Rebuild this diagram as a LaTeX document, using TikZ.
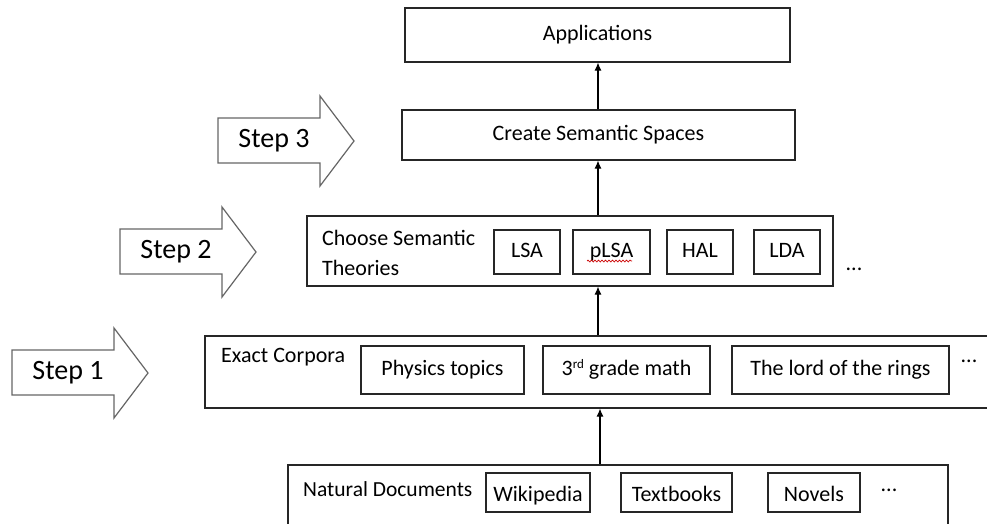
\documentclass[tikz,border=0pt]{standalone}
\usepackage{fontspec}
\setmainfont{Carlito}
\usetikzlibrary{arrows.meta,decorations.pathmorphing}
\begin{document}
\begin{tikzpicture}[x=1pt,y=-1pt,
  box/.style={draw=black!85,line width=1.1pt,inner sep=0pt,font=\fontsize{22}{26}\selectfont},
  ibox/.style={draw=black!85,line width=1.1pt,inner sep=0pt,text height=15pt,text depth=4pt,font=\fontsize{22}{26}\selectfont},
  dbox/.style={ibox,text height=20pt,text depth=3pt},
  lbl/.style={inner sep=0pt,font=\fontsize{22}{30}\selectfont,align=left},
  stepshape/.style={draw=black!60,line width=1.2pt,fill=white,line join=miter},
  steptxt/.style={inner sep=0pt,font=\fontsize{28}{30}\selectfont},
  arr/.style={line width=1.1pt,-{Latex[length=8pt,width=7pt]}}]
\clip (0,0) rectangle (987,523);
\fill[white] (0,0) rectangle (987,523);
% main boxes
\node[box,minimum width=385pt,minimum height=54pt] (app) at (597.5,35) {\raisebox{3pt}{Applications}};
\node[box,minimum width=393pt,minimum height=50pt] (create) at (598.5,135) {\raisebox{3pt}{Create Semantic Spaces}};
\node[box,minimum width=526pt,minimum height=70pt] (choose) at (570,251) {};
\node[box,minimum width=790pt,minimum height=72pt] (exact) at (600,372) {};
\node[box,minimum width=660pt,minimum height=70pt] (natural) at (618,500) {};
% labels inside outer boxes
\node[lbl,anchor=west] (chooselbl) at (322,253) {Choose Semantic\\Theories};
\node[lbl,anchor=west] (exactlbl) at (221,357) {Exact Corpora};
\node[lbl,anchor=west,font=\fontsize{21.5}{26}\selectfont] (naturallbl) at (303,489) {Natural Documents};
% theory boxes
\node[ibox,minimum width=66pt,minimum height=44pt] (lsa) at (527,252) {LSA};
\node[ibox,minimum width=77pt,minimum height=44pt] (plsa) at (611.5,252) {pLSA};
\node[ibox,minimum width=66pt,minimum height=44pt] (hal) at (700,252) {HAL};
\node[ibox,minimum width=66pt,minimum height=44pt] (lda) at (787,252) {LDA};
\node[lbl] (dots2) at (854,269) {...};
\draw[red!80!black,line width=0.7pt,decorate,decoration={snake,amplitude=0.9pt,segment length=3.5pt}] (587,261) -- (632,261);
% corpora boxes
\node[ibox,minimum width=163pt,minimum height=48pt] (phys) at (442.5,370) {Physics topics};
\node[ibox,minimum width=167pt,minimum height=48pt] (math) at (626.5,370) {3\raisebox{7pt}{\fontsize{13}{13}\selectfont rd} grade math};
\node[ibox,minimum width=217pt,minimum height=48pt] (lord) at (840.5,370) {The lord of the rings};
\node[lbl] (dots1) at (969,361) {...};
% document boxes
\node[dbox,minimum width=104pt,minimum height=39pt] (wiki) at (538,492.5) {Wikipedia};
\node[dbox,minimum width=111pt,minimum height=39pt] (text) at (676.5,492.5) {Textbooks};
\node[dbox,minimum width=92pt,minimum height=39pt] (novel) at (814,492.5) {Novels};
\node[lbl] (dots0) at (889,490) {...};
% connectors
\coordinate (ax) at (598,0);
\coordinate (bx) at (600,0);
\draw[arr] (natural.north -| bx) -- (exact.south -| bx);
\draw[arr] (exact.north -| ax) -- (choose.south -| ax);
\draw[arr] (choose.north -| ax) -- (create.south -| ax);
\draw[arr] (create.north -| ax) -- (app.south -| ax);
% step arrows
\draw[stepshape] (12,350) -- (114,350) -- (114,328) -- (148,373) -- (114,418) -- (114,395) -- (12,395) -- cycle;
\node[steptxt] (s1) at (68,373) {Step 1};
\draw[stepshape] (120,229) -- (222,229) -- (222,207) -- (256,252) -- (222,297) -- (222,274) -- (120,274) -- cycle;
\node[steptxt] (s2) at (176,252) {Step 2};
\draw[stepshape] (218,118) -- (320,118) -- (320,96) -- (354,141) -- (320,186) -- (320,163) -- (218,163) -- cycle;
\node[steptxt] (s3) at (274,141) {Step 3};
\end{tikzpicture}
\end{document}
